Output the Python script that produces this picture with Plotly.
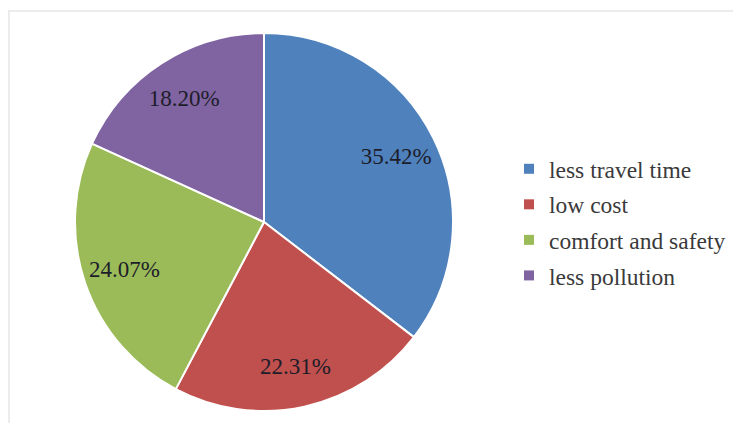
import plotly.graph_objects as go

categories = ["less travel time", "low cost", "comfort and safety", "less pollution"]
values = [35.42, 22.31, 24.07, 18.20]
label_text = ["35.42%", "22.31%", "24.07%", "18.20%"]
colors = ["#4F81BD", "#C0504D", "#9BBB59", "#8064A2"]

W, H = 733, 423
cx, cy, R = 264, 222, 189
dom = dict(x=[(cx - R) / W, (cx + R) / W], y=[1 - (cy + R) / H, 1 - (cy - R) / H])

fig = go.Figure()
fig.add_trace(go.Pie(
    labels=categories,
    values=values,
    textinfo="none",
    sort=False,
    direction="clockwise",
    rotation=0,
    marker=dict(colors=colors, line=dict(color="white", width=2)),
    domain=dom,
    showlegend=False,
    hoverinfo="label+percent",
))
# transparent ring carrying the data labels toward the outer part of each slice
fig.add_trace(go.Pie(
    labels=categories,
    values=values,
    text=label_text,
    textinfo="text",
    textposition="inside",
    insidetextorientation="horizontal",
    sort=False,
    direction="clockwise",
    rotation=0,
    hole=0.56,
    marker=dict(colors=["rgba(0,0,0,0)"] * len(values), line=dict(width=0)),
    textfont=dict(family="Liberation Serif", size=23, color="#1d1d2a"),
    domain=dom,
    showlegend=False,
    hoverinfo="skip",
))

for name, col in zip(categories, colors):
    fig.add_trace(go.Scatter(
        x=[None], y=[None], mode="markers", name=name,
        marker=dict(symbol="square", size=10, color=col),
        legendgroup=name, showlegend=True,
    ))

fig.update_layout(
    width=W, height=H,
    margin=dict(l=0, r=0, t=0, b=0),
    paper_bgcolor="white", plot_bgcolor="white",
    xaxis=dict(visible=False), yaxis=dict(visible=False),
    legend=dict(
        x=509 / W, y=1 - 147 / H, xanchor="left", yanchor="top",
        font=dict(family="Liberation Serif", size=23.5, color="#3a3a3a"),
        tracegroupgap=2, bgcolor="rgba(0,0,0,0)",
    ),
    shapes=[
        dict(type="line", xref="paper", yref="paper", x0=8 / W, x1=1, y0=1 - 11 / H, y1=1 - 11 / H,
             line=dict(color="#e6e6e6", width=1.5)),
        dict(type="line", xref="paper", yref="paper", x0=9 / W, x1=9 / W, y0=0, y1=1 - 11 / H,
             line=dict(color="#e6e6e6", width=1.5)),
    ],
)

fig.write_html("out.html")
